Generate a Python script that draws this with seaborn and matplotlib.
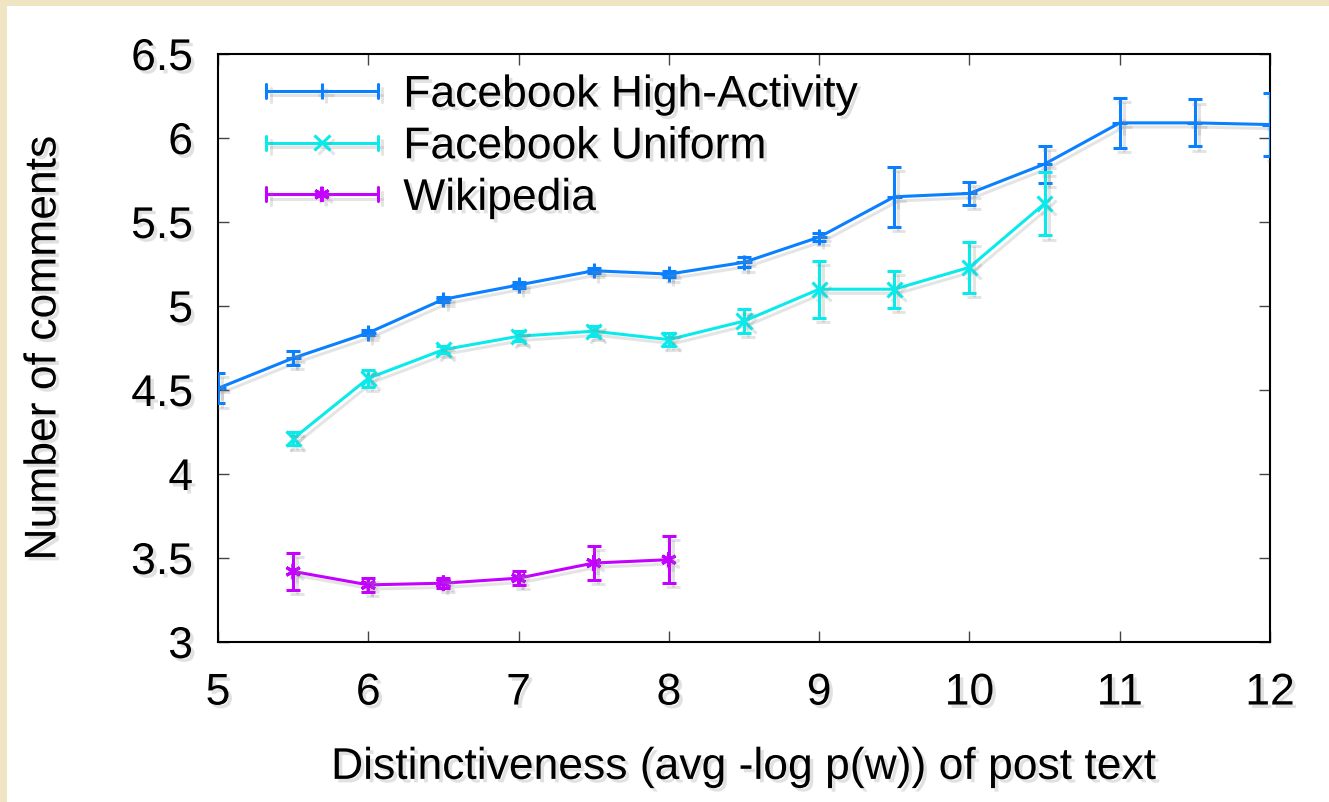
import matplotlib
matplotlib.use("Agg")
import matplotlib.pyplot as plt
import matplotlib.patheffects as pe
from matplotlib.legend_handler import HandlerBase
from matplotlib.lines import Line2D
from matplotlib.patches import Rectangle
import numpy as np
import pandas as pd
import seaborn as sns

# ---------------------------------------------------------------------------
# Data
# ---------------------------------------------------------------------------
SERIES = ["Facebook High-Activity", "Facebook Uniform", "Wikipedia"]

ha_x = [5, 5.5, 6, 6.5, 7, 7.5, 8, 8.5, 9, 9.5, 10, 10.5, 11, 11.5, 12]
ha_y = [4.51, 4.69, 4.84, 5.04, 5.125, 5.21, 5.19, 5.26, 5.41, 5.65, 5.67, 5.845, 6.09, 6.09, 6.08]
ha_err = [0.09, 0.04, 0.015, 0.015, 0.015, 0.015, 0.02, 0.03, 0.025, 0.18, 0.07, 0.11, 0.15, 0.14, 0.19]

un_x = [5.5, 6, 6.5, 7, 7.5, 8, 8.5, 9, 9.5, 10, 10.5]
un_y = [4.21, 4.57, 4.74, 4.82, 4.85, 4.80, 4.91, 5.10, 5.10, 5.23, 5.61]
un_err = [0.04, 0.05, 0.02, 0.03, 0.03, 0.04, 0.07, 0.17, 0.11, 0.15, 0.19]

wk_x = [5.5, 6, 6.5, 7, 7.5, 8]
wk_y = [3.42, 3.34, 3.35, 3.38, 3.47, 3.49]
wk_err = [0.11, 0.04, 0.03, 0.04, 0.10, 0.14]

COLORS = {
    "Facebook High-Activity": "#0a80ff",
    "Facebook Uniform":       "#0aeaea",
    "Wikipedia":              "#c400ff",
}
MARKERS = {
    "Facebook High-Activity": "+",
    "Facebook Uniform":       "x",
    "Wikipedia":              (6, 2, 0),
}

df = pd.concat([
    pd.DataFrame({"x": ha_x, "y": ha_y, "err": ha_err, "series": SERIES[0]}),
    pd.DataFrame({"x": un_x, "y": un_y, "err": un_err, "series": SERIES[1]}),
    pd.DataFrame({"x": wk_x, "y": wk_y, "err": wk_err, "series": SERIES[2]}),
], ignore_index=True)

sns.set_theme(style="ticks")
plt.rcParams.update({
    "font.family": ["Liberation Sans", "DejaVu Sans"],
    "font.size": 32,
    "text.color": "black",
    "axes.labelcolor": "black",
    "xtick.labelcolor": "black",
    "ytick.labelcolor": "black",
})

LW = 2.2
FS = 32
SHADOW = [pe.SimpleLineShadow(offset=(3, -3), shadow_color="#888888", alpha=0.22), pe.Normal()]
TXT_SHADOW = [pe.SimplePatchShadow(offset=(2.5, -2.5), shadow_rgbFace="#888888", alpha=0.25), pe.Normal()]

fig = plt.figure(figsize=(13.29, 8.02), dpi=100)
fig.patch.set_facecolor("#efe5c2")
fig.patches.append(Rectangle((7 / 1329, 0), 1 - 7 / 1329, 1 - 6 / 802,
                             transform=fig.transFigure, facecolor="white",
                             edgecolor="none", zorder=-1))
ax = fig.add_axes([218 / 1329, 1 - 642 / 802, (1270 - 218) / 1329, (642 - 54) / 802])
ax.set_zorder(2)
ax.set_facecolor("none")

sns.lineplot(data=df, x="x", y="y", hue="series", style="series",
             hue_order=SERIES, style_order=SERIES, palette=COLORS,
             markers=MARKERS, dashes=False, linewidth=LW, markersize=11,
             markeredgewidth=LW, legend=False, ax=ax, zorder=3)

for line in ax.get_lines():
    line.set_markeredgecolor(line.get_color())
    line.set_path_effects(SHADOW)

for name in SERIES:
    sub = df[df["series"] == name]
    _, caps, bars = ax.errorbar(sub["x"], sub["y"], yerr=sub["err"], fmt="none",
                                ecolor=COLORS[name], elinewidth=LW, capsize=5,
                                capthick=LW, zorder=3)
    for b in bars:
        b.set_path_effects(SHADOW)
    for c in caps:
        c.set_path_effects(SHADOW)


class ErrHandler(HandlerBase):
    """gnuplot-style key: horizontal bar with end caps and centre marker."""

    def create_artists(self, legend, orig_handle, xdescent, ydescent,
                       width, height, fontsize, trans):
        color = orig_handle.get_color()
        y = height / 2 - ydescent
        x0, x1 = -xdescent, width - xdescent
        cap = 5
        arts = [
            Line2D([x0, x1], [y, y], color=color, lw=LW),
            Line2D([x0, x0], [y - cap, y + cap], color=color, lw=LW),
            Line2D([x1, x1], [y - cap, y + cap], color=color, lw=LW),
            Line2D([(x0 + x1) / 2], [y], color=color, marker=orig_handle.get_marker(),
                   markersize=11, markeredgewidth=LW, linestyle="none"),
        ]
        for a in arts:
            a.set_transform(trans)
            a.set_path_effects(SHADOW)
        return arts


handles = [Line2D([], [], color=COLORS[s], marker=MARKERS[s]) for s in SERIES]
leg = ax.legend(handles, SERIES, handler_map={Line2D: ErrHandler()},
                loc="upper left", bbox_to_anchor=(0.046, 0.965), frameon=False,
                fontsize=FS, handlelength=2.5, handletextpad=0.58,
                labelspacing=0.24, borderpad=0, borderaxespad=0)
for t in leg.get_texts():
    t.set_path_effects(TXT_SHADOW)

ax.set_xlim(5, 12)
ax.set_ylim(3, 6.5)
ax.set_xticks(np.arange(5, 12.5, 1))
ax.set_yticks(np.arange(3, 6.75, 0.5))
ax.set_xticklabels([f"{v:g}" for v in np.arange(5, 12.5, 1)])
ax.set_yticklabels([f"{v:g}" for v in np.arange(3, 6.75, 0.5)])
ax.tick_params(direction="in", length=8, width=1, color="#444444",
               top=True, right=True, labelsize=FS)
ax.tick_params(axis="x", pad=22)
ax.tick_params(axis="y", pad=18)
for sp in ax.spines.values():
    sp.set_visible(True)
    sp.set_linewidth(1.5)
    sp.set_color("black")

ax.set_xlabel("Distinctiveness (avg -log p(w)) of post text", fontsize=FS, labelpad=24)
ax.set_ylabel("Number of comments", fontsize=FS, labelpad=48)
for t in ax.get_xticklabels() + ax.get_yticklabels() + [ax.xaxis.label, ax.yaxis.label]:
    t.set_path_effects(TXT_SHADOW)

fig.savefig("out.png", dpi=100, facecolor=fig.get_facecolor())
